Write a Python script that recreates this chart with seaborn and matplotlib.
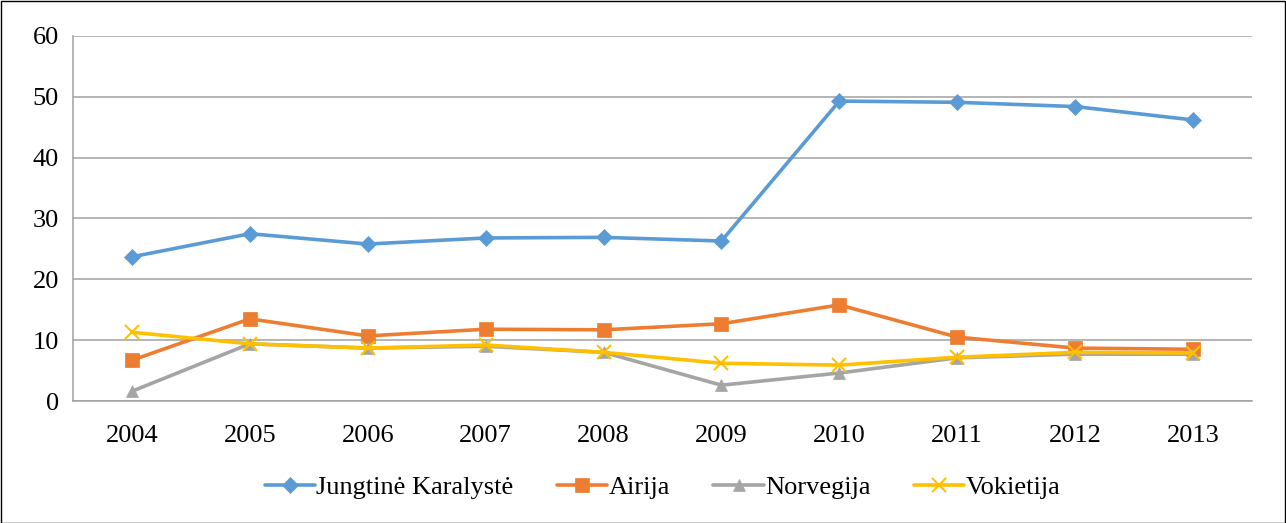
import numpy as np
import pandas as pd
import matplotlib
matplotlib.use("Agg")
import matplotlib.pyplot as plt
import seaborn as sns
from matplotlib.patches import Rectangle

years = ["2004", "2005", "2006", "2007", "2008", "2009", "2010", "2011", "2012", "2013"]
series_names = ["Jungtinė Karalystė", "Airija", "Norvegija", "Vokietija"]
uk = [23.7, 27.5, 25.8, 26.8, 26.9, 26.3, 49.3, 49.1, 48.4, 46.2]
ireland = [6.7, 13.5, 10.7, 11.8, 11.7, 12.7, 15.8, 10.5, 8.7, 8.5]
norway = [1.6, 9.4, 8.7, 9.0, 8.0, 2.6, 4.6, 7.1, 7.7, 7.7]
germany = [11.3, 9.4, 8.7, 9.2, 8.0, 6.2, 5.9, 7.2, 8.0, 7.9]
y_ticks = [0, 10, 20, 30, 40, 50, 60]

colors = ["#5B9BD5", "#ED7D31", "#A5A5A5", "#FFC000"]
markers = ["D", "s", "^", "x"]
msizes = [8, 10, 9, 10]

sns.set_style("white")
plt.rcParams['font.family'] = ['Liberation Serif', 'DejaVu Serif']
plt.rcParams['text.color'] = 'black'
plt.rcParams['xtick.color'] = 'black'
plt.rcParams['ytick.color'] = 'black'

values = [uk, ireland, norway, germany]
frames = []
for name, vals in zip(series_names, values):
    frames.append(pd.DataFrame({"year": years, "pos": np.arange(len(years)), "value": vals, "series": name}))
df = pd.concat(frames, ignore_index=True)

fig = plt.figure(figsize=(12.86, 5.23), dpi=100)
ax = fig.add_axes([73/1286, 1 - 401/523, (1252-73)/1286, (401-36)/523])

for i, name in enumerate(series_names):
    sub = df[df.series == name]
    sns.lineplot(data=sub, x="pos", y="value", ax=ax, color=colors[i], linewidth=2.6,
                 marker=markers[i], markersize=msizes[i],
                 markeredgecolor=colors[i], markerfacecolor=colors[i],
                 markeredgewidth=1.5 if markers[i] == "x" else 0.5,
                 label=name, zorder=3 + i)

ax.set_xlim(-0.5, len(years) - 0.5)
ax.set_ylim(0, 60)
ax.set_yticks(y_ticks)
ax.set_yticklabels([str(t) for t in y_ticks], fontsize=19, color='black')
ax.set_xticks(np.arange(len(years)))
ax.set_xticklabels(years, fontsize=19, color='black')
ax.set_xticks(np.arange(len(years) + 1) - 0.5, minor=True)
ax.tick_params(axis='x', which='major', length=0, pad=17)
ax.tick_params(axis='x', which='minor', length=8, color='#A0A0A0', width=1, direction='out')
ax.tick_params(axis='y', which='major', length=6, color='#A0A0A0', width=1, direction='out', pad=4)
ax.set_xlabel("")
ax.set_ylabel("")
ax.grid(axis='y', color='#A0A0A0', linewidth=1.1)
ax.set_axisbelow(True)
for s in ["top", "right"]:
    ax.spines[s].set_visible(False)
for s in ["left", "bottom"]:
    ax.spines[s].set_color('#A0A0A0')
    ax.spines[s].set_linewidth(1.1)

leg = ax.legend(loc='center', bbox_to_anchor=(0.5, (401 - 487) / 365), ncol=4, frameon=False,
                fontsize=19, handlelength=1.9, columnspacing=1.65, handletextpad=0.05)
for t in leg.get_texts():
    t.set_color('black')

fig.patches.append(Rectangle((0.5/1286, 0.5/523), 1 - 1.5/1286, 1 - 1.5/523, transform=fig.transFigure,
                             fill=False, edgecolor='black', linewidth=1))

fig.savefig("out.png", dpi=100)
